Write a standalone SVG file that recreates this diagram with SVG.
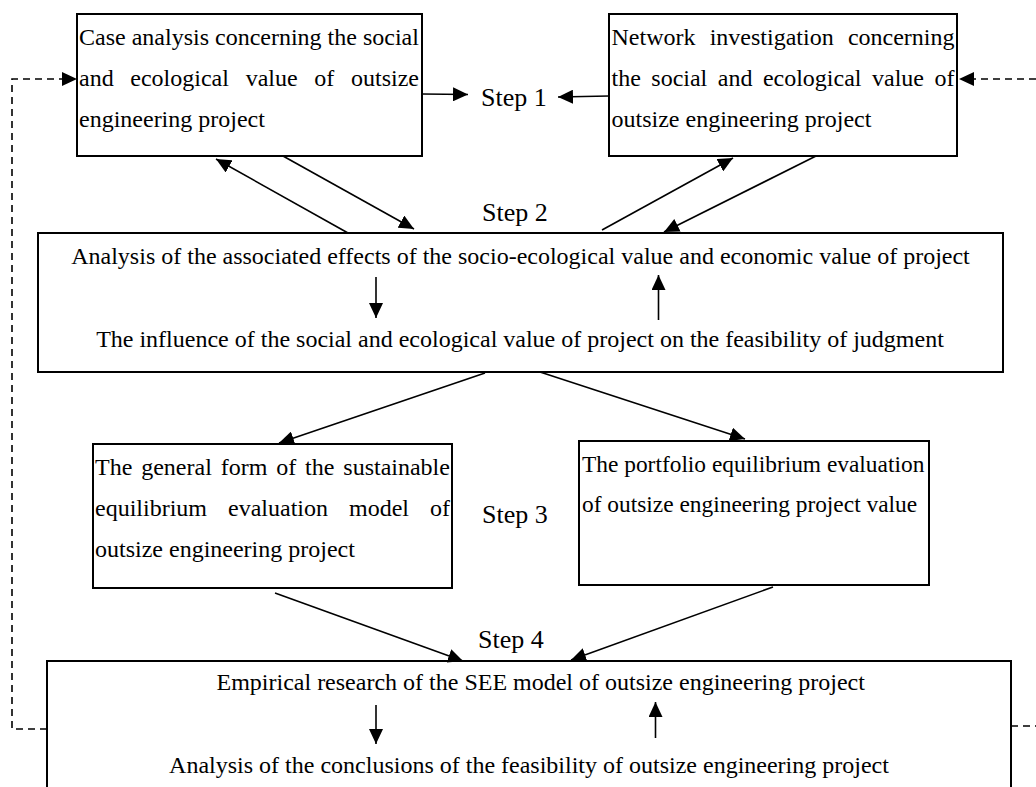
<svg xmlns="http://www.w3.org/2000/svg" width="1036" height="787" viewBox="0 0 1036 787">
<style>
.box{fill:#fff;stroke:#000;stroke-width:2}
.t{font-family:"Liberation Serif","Times New Roman",serif;font-size:24px;fill:#000}
.step{font-family:"Liberation Serif","Times New Roman",serif;font-size:26px;fill:#000}
.ar{fill:none;stroke:#000;stroke-width:1.6;marker-end:url(#ah)}
.dash{fill:none;stroke:#000;stroke-width:1.6;stroke-dasharray:7 5}
</style>
<defs>
<marker id="ah" markerUnits="userSpaceOnUse" markerWidth="16" markerHeight="14" refX="15" refY="7" orient="auto">
<path d="M0,0 L15,7 L0,14 z" fill="#000"/>
</marker>
</defs>
<rect width="1036" height="787" fill="#fff"/>

<g id="box1">
<rect class="box" x="77" y="14" width="345" height="142"/>
<text class="t" x="79" y="45">Case analysis concerning the social</text>
<text class="t" y="86"><tspan x="79">and</tspan><tspan x="130.3">ecological</tspan><tspan x="245.7">value</tspan><tspan x="314.3">of</tspan><tspan x="351">outsize</tspan></text>
<text class="t" x="79" y="127">engineering project</text>
</g>

<g id="box2">
<rect class="box" x="609" y="14" width="348" height="142"/>
<text class="t" y="45"><tspan x="611.5">Network</tspan><tspan x="709.7">investigation</tspan><tspan x="847.9">concerning</tspan></text>
<text class="t" y="86"><tspan x="611.5">the</tspan><tspan x="651.3">social</tspan><tspan x="717.8">and</tspan><tspan x="762.9">ecological</tspan><tspan x="872">value</tspan><tspan x="934.5">of</tspan></text>
<text class="t" x="611.5" y="127">outsize engineering project</text>
</g>

<g id="step1"><text class="step" x="481" y="106">Step 1</text></g>
<g id="step2"><text class="step" x="482" y="221">Step 2</text></g>
<g id="step3"><text class="step" x="482" y="523">Step 3</text></g>
<g id="step4"><text class="step" x="478" y="648">Step 4</text></g>

<g id="box3">
<rect class="box" x="38" y="233" width="965" height="139"/>
<text class="t" x="520.5" y="264" text-anchor="middle">Analysis of the associated effects of the socio-ecological value and economic value of project</text>
<text class="t" x="520" y="347" text-anchor="middle">The influence of the social and ecological value of project on the feasibility of judgment</text>
</g>

<g id="box4">
<rect class="box" x="93" y="444" width="359" height="144"/>
<text class="t" y="475"><tspan x="95">The</tspan><tspan x="141.2">general</tspan><tspan x="220.7">form</tspan><tspan x="276.3">of</tspan><tspan x="305.1">the</tspan><tspan x="343.3">sustainable</tspan></text>
<text class="t" y="516"><tspan x="95">equilibrium</tspan><tspan x="228">evaluation</tspan><tspan x="349">model</tspan><tspan x="430">of</tspan></text>
<text class="t" x="95" y="557">outsize engineering project</text>
</g>

<g id="box5">
<rect class="box" x="579" y="441" width="350" height="144"/>
<text class="t" x="582" y="472" style="font-size:23.4px">The portfolio equilibrium evaluation</text>
<text class="t" x="582" y="512" style="font-size:23.4px">of outsize engineering project value</text>
</g>

<g id="box6">
<rect class="box" x="47" y="661" width="964" height="160"/>
<text class="t" x="216.5" y="690">Empirical research of the SEE model of outsize engineering project</text>
<text class="t" x="529" y="773" text-anchor="middle">Analysis of the conclusions of the feasibility of outsize engineering project</text>
</g>

<g id="connectors">
<line class="ar" x1="422" y1="94" x2="468" y2="94.5"/>
<line class="ar" x1="609" y1="96" x2="558" y2="97"/>
<line class="ar" x1="348" y1="233" x2="216" y2="159"/>
<line class="ar" x1="283" y1="156" x2="414" y2="229"/>
<line class="ar" x1="602" y1="230" x2="733" y2="158"/>
<line class="ar" x1="816" y1="156" x2="664" y2="232"/>
<line class="ar" x1="376" y1="277" x2="376" y2="318"/>
<line class="ar" x1="658.5" y1="320" x2="658.5" y2="275"/>
<line class="ar" x1="485" y1="373" x2="279" y2="443"/>
<line class="ar" x1="540" y1="372" x2="745" y2="439"/>
<line class="ar" x1="275" y1="593" x2="463" y2="661"/>
<line class="ar" x1="773" y1="587" x2="571" y2="660"/>
<line class="ar" x1="376" y1="705" x2="376" y2="744"/>
<line class="ar" x1="655.5" y1="738" x2="655.5" y2="702"/>
<path class="dash" d="M47,729 H12 V79 H62"/>
<path d="M62,72 L77,79 L62,86 z" fill="#000"/>
<path class="dash" d="M1036,79 H974"/>
<path d="M974,72 L959,79 L974,86 z" fill="#000"/>
<path class="dash" d="M1011,726 H1036"/>
</g>
</svg>
